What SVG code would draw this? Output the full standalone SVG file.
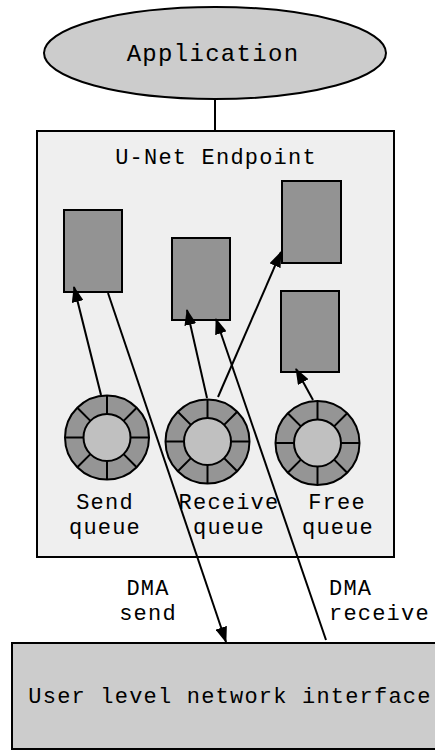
<svg xmlns="http://www.w3.org/2000/svg" width="435" height="750" viewBox="0 0 435 750">
  <defs>
    <style>
      text { font-family: "Liberation Mono", "Courier New", monospace; font-size: 22px; letter-spacing: 1.2px; fill: #000; }
      .mid { text-anchor: middle; }
      .edge { stroke: #000; stroke-width: 2; fill: none; }
      .buf { fill: #939393; stroke: #000; stroke-width: 2; }
      .ring { fill: #959595; stroke: #000; stroke-width: 2; }
      .hub { fill: #c0c0c0; stroke: #000; stroke-width: 2; }
      .spoke { stroke: #000; stroke-width: 2; }
    </style>
    <marker id="arrow" markerWidth="16" markerHeight="12" refX="15" refY="6" orient="auto" markerUnits="userSpaceOnUse">
      <path d="M0,0 L16,6 L0,12 Z" fill="#000"/>
    </marker>
    <!-- ring buffer: outer ring of 8 slots around a hub -->
    <g id="ringbuf">
      <circle class="ring" r="42"/>
      <g class="spoke">
        <line x1="23.5" y1="0" x2="42" y2="0"/>
        <line x1="-23.5" y1="0" x2="-42" y2="0"/>
        <line x1="0" y1="23.5" x2="0" y2="42"/>
        <line x1="0" y1="-23.5" x2="0" y2="-42"/>
        <line x1="16.6" y1="16.6" x2="29.7" y2="29.7"/>
        <line x1="-16.6" y1="16.6" x2="-29.7" y2="29.7"/>
        <line x1="16.6" y1="-16.6" x2="29.7" y2="-29.7"/>
        <line x1="-16.6" y1="-16.6" x2="-29.7" y2="-29.7"/>
      </g>
      <circle class="hub" r="23.5"/>
    </g>
  </defs>

  <rect width="435" height="750" fill="#fff"/>

  <g id="application">
    <ellipse cx="215" cy="53" rx="171" ry="46" fill="#cccccc" stroke="#000" stroke-width="2"/>
    <text class="mid" x="213" y="61" style="font-size:24px;letter-spacing:1.3px">Application</text>
  </g>

  <g id="endpoint">
    <rect x="37" y="131" width="357" height="426" fill="#efefef" stroke="#000" stroke-width="2"/>
    <text class="mid" x="216" y="164">U-Net Endpoint</text>
  </g>

  <g id="send-buffer"><rect class="buf" x="64" y="210" width="58" height="82"/></g>
  <g id="receive-buffer"><rect class="buf" x="172" y="238" width="58" height="82"/></g>
  <g id="free-buffer-top"><rect class="buf" x="282" y="181" width="59" height="82"/></g>
  <g id="free-buffer-bottom"><rect class="buf" x="281" y="291" width="58" height="81"/></g>

  <g id="send-queue">
    <use href="#ringbuf" x="107" y="437.5"/>
    <text class="mid" x="105" y="509">Send</text>
    <text class="mid" x="105" y="534">queue</text>
  </g>
  <g id="receive-queue">
    <use href="#ringbuf" x="207.5" y="441.5"/>
    <text class="mid" x="229" y="509">Receive</text>
    <text class="mid" x="229" y="534">queue</text>
  </g>
  <g id="free-queue">
    <use href="#ringbuf" x="317.5" y="443"/>
    <text class="mid" x="337" y="509">Free</text>
    <text class="mid" x="338" y="534">queue</text>
  </g>

  <g id="network-interface">
    <rect x="12" y="643" width="440" height="106" fill="#cccccc" stroke="#000" stroke-width="2"/>
    <text class="mid" x="230" y="703">User level network interface</text>
  </g>

  <g id="connectors">
    <line class="edge" x1="215" y1="99" x2="215" y2="131"/>
    <line class="edge" x1="101" y1="395" x2="74" y2="287" marker-end="url(#arrow)"/>
    <line class="edge" x1="108" y1="293" x2="226" y2="642" marker-end="url(#arrow)"/>
    <line class="edge" x1="207" y1="398" x2="187" y2="310" marker-end="url(#arrow)"/>
    <line class="edge" x1="326" y1="640" x2="216" y2="319" marker-end="url(#arrow)"/>
    <line class="edge" x1="218" y1="397" x2="281" y2="252" marker-end="url(#arrow)"/>
    <line class="edge" x1="313" y1="400" x2="296" y2="369" marker-end="url(#arrow)"/>
    <text class="mid" x="148" y="595">DMA</text>
    <text class="mid" x="148" y="620">send</text>
    <text x="329" y="595">DMA</text>
    <text x="329" y="620">receive</text>
  </g>
</svg>
